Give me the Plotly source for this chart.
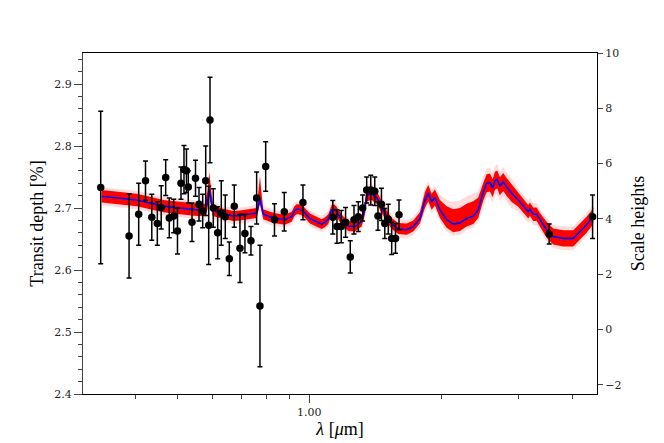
import plotly.graph_objects as go
import math

# ---------------- observed transit depths ----------------
obs_wavelength = [0.3340, 0.3877, 0.4078, 0.4227, 0.4369, 0.4498, 0.4591, 0.4700, 0.4790, 0.4902,
                  0.5001, 0.5094, 0.5175, 0.5243, 0.5293, 0.5398, 0.5498, 0.5600, 0.5710, 0.5801,
                  0.5893, 0.5934, 0.6037, 0.6178, 0.6296, 0.6430, 0.6567, 0.6741, 0.6946, 0.7130,
                  0.7359, 0.7583, 0.7716, 0.7952, 0.8329, 0.8768, 0.9674, 1.1317, 1.1567, 1.1832,
                  1.2104, 1.2406, 1.2651, 1.2940, 1.3242, 1.3524, 1.3817, 1.4110, 1.4350, 1.4617,
                  1.4876, 1.5152, 1.5424, 1.5736, 1.6029, 3.531, 4.436]
obs_depth = [2.733, 2.655, 2.690, 2.744, 2.685, 2.675, 2.701, 2.749, 2.684, 2.687,
             2.663, 2.740, 2.762, 2.760, 2.734, 2.677, 2.748, 2.706, 2.695, 2.744,
             2.672, 2.842, 2.700, 2.660, 2.692, 2.686, 2.618, 2.703, 2.635, 2.659,
             2.647, 2.716, 2.542, 2.767, 2.681, 2.694, 2.709, 2.685, 2.670, 2.670,
             2.677, 2.621, 2.681, 2.686, 2.700, 2.729, 2.729, 2.727, 2.687, 2.706,
             2.675, 2.682, 2.651, 2.651, 2.689, 2.658, 2.686]
obs_error = [0.123, 0.068, 0.050, 0.032, 0.037, 0.035, 0.035, 0.029, 0.032, 0.027,
             0.037, 0.026, 0.039, 0.035, 0.026, 0.031, 0.029, 0.027, 0.027, 0.056,
             0.063, 0.069, 0.031, 0.042, 0.052, 0.035, 0.027, 0.034, 0.055, 0.031,
             0.023, 0.042, 0.098, 0.040, 0.026, 0.031, 0.028, 0.027, 0.027, 0.026,
             0.024, 0.026, 0.023, 0.024, 0.021, 0.021, 0.024, 0.023, 0.023, 0.026,
             0.024, 0.024, 0.026, 0.024, 0.024, 0.016, 0.035]

# ---------------- retrieved model spectrum ----------------
model_wavelength = [0.3357, 0.3697, 0.4035, 0.4328, 0.4642, 0.5068, 0.5533, 0.5777, 0.5854, 0.5910,
                    0.5964, 0.6018, 0.6254, 0.6477, 0.6706, 0.6946, 0.7199, 0.7452, 0.7584, 0.7648,
                    0.7716, 0.7785, 0.7852, 0.8134, 0.8425, 0.8800, 0.9116, 0.9252, 0.9359, 0.9473,
                    0.9690, 1.0037, 1.0484, 1.0673, 1.0859, 1.1050, 1.1249, 1.1387, 1.1549, 1.1857,
                    1.2276, 1.2715, 1.3172, 1.3405, 1.3524, 1.3882, 1.4251, 1.4634, 1.5024, 1.5424,
                    1.5970, 1.6690, 1.7277, 1.7889, 1.8372, 1.8692, 1.9031, 1.9364, 1.9879, 2.0592,
                    2.1322, 2.2085, 2.2877, 2.3685, 2.4315, 2.4965, 2.5410, 2.5860, 2.6228, 2.6546,
                    2.6866, 2.7253, 2.7728, 2.8228, 2.8979, 3.0006, 3.1081, 3.1623, 3.1909, 3.2465,
                    3.3053, 3.3629, 3.4834, 3.6067, 3.8019, 4.0067, 4.1500, 4.2987, 4.4131, 4.4509]
model_median = [2.719, 2.716, 2.713, 2.708, 2.703, 2.700, 2.697, 2.697, 2.708, 2.730,
                2.713, 2.697, 2.692, 2.690, 2.687, 2.688, 2.689, 2.691, 2.692, 2.705,
                2.715, 2.702, 2.690, 2.686, 2.683, 2.681, 2.686, 2.695, 2.698, 2.698,
                2.695, 2.683, 2.676, 2.674, 2.677, 2.682, 2.697, 2.698, 2.694, 2.681,
                2.671, 2.670, 2.678, 2.700, 2.721, 2.723, 2.717, 2.702, 2.686, 2.674,
                2.666, 2.665, 2.670, 2.683, 2.713, 2.724, 2.710, 2.717, 2.697, 2.681,
                2.674, 2.676, 2.683, 2.687, 2.697, 2.726, 2.740, 2.741, 2.732, 2.744,
                2.746, 2.735, 2.742, 2.734, 2.724, 2.713, 2.700, 2.694, 2.698, 2.690,
                2.690, 2.681, 2.665, 2.654, 2.651, 2.651, 2.662, 2.673, 2.683, 2.689]
sigma1_up = [0.010, 0.010, 0.010, 0.010, 0.010, 0.010, 0.010, 0.010, 0.019, 0.027,
             0.019, 0.010, 0.008, 0.008, 0.008, 0.008, 0.008, 0.008, 0.008, 0.019,
             0.035, 0.019, 0.008, 0.008, 0.008, 0.008, 0.008, 0.008, 0.008, 0.008,
             0.008, 0.008, 0.008, 0.008, 0.008, 0.008, 0.008, 0.008, 0.008, 0.008,
             0.008, 0.008, 0.008, 0.010, 0.010, 0.010, 0.010, 0.010, 0.010, 0.010,
             0.010, 0.010, 0.010, 0.010, 0.013, 0.013, 0.013, 0.013, 0.016, 0.022,
             0.024, 0.024, 0.024, 0.024, 0.020, 0.0145, 0.0145, 0.0145, 0.0145, 0.0145,
             0.0145, 0.0145, 0.0145, 0.0145, 0.0145, 0.011, 0.011, 0.011, 0.011, 0.011,
             0.011, 0.011, 0.013, 0.013, 0.013, 0.013, 0.013, 0.013, 0.013, 0.013]
sigma1_dn = [0.010, 0.010, 0.010, 0.010, 0.010, 0.010, 0.010, 0.010, 0.010, 0.010,
             0.010, 0.010, 0.008, 0.008, 0.008, 0.008, 0.008, 0.008, 0.008, 0.008,
             0.008, 0.008, 0.008, 0.008, 0.008, 0.008, 0.008, 0.008, 0.008, 0.008,
             0.008, 0.008, 0.008, 0.008, 0.008, 0.008, 0.008, 0.008, 0.008, 0.008,
             0.008, 0.008, 0.008, 0.010, 0.010, 0.010, 0.010, 0.010, 0.008, 0.008,
             0.008, 0.008, 0.008, 0.008, 0.013, 0.013, 0.013, 0.013, 0.013, 0.013,
             0.013, 0.013, 0.013, 0.013, 0.013, 0.0145, 0.0145, 0.0145, 0.0145, 0.0145,
             0.0145, 0.0145, 0.0145, 0.0145, 0.0145, 0.011, 0.011, 0.011, 0.011, 0.011,
             0.011, 0.011, 0.013, 0.013, 0.013, 0.013, 0.013, 0.013, 0.013, 0.013]
sigma2_up = [0.015, 0.015, 0.015, 0.015, 0.015, 0.015, 0.015, 0.015, 0.029, 0.039,
             0.029, 0.015, 0.013, 0.013, 0.013, 0.013, 0.013, 0.013, 0.013, 0.029,
             0.045, 0.029, 0.013, 0.013, 0.013, 0.013, 0.013, 0.013, 0.013, 0.013,
             0.013, 0.013, 0.013, 0.013, 0.013, 0.013, 0.013, 0.013, 0.013, 0.013,
             0.013, 0.013, 0.013, 0.016, 0.016, 0.016, 0.016, 0.016, 0.016, 0.016,
             0.016, 0.016, 0.016, 0.016, 0.019, 0.019, 0.019, 0.019, 0.024, 0.032,
             0.036, 0.036, 0.036, 0.036, 0.030, 0.024, 0.024, 0.024, 0.024, 0.024,
             0.024, 0.024, 0.024, 0.024, 0.024, 0.018, 0.018, 0.018, 0.018, 0.018,
             0.018, 0.018, 0.019, 0.019, 0.019, 0.019, 0.019, 0.019, 0.019, 0.019]
sigma2_dn = [0.015, 0.015, 0.015, 0.015, 0.015, 0.015, 0.015, 0.015, 0.015, 0.015,
             0.015, 0.015, 0.013, 0.013, 0.013, 0.013, 0.013, 0.013, 0.013, 0.013,
             0.013, 0.013, 0.013, 0.013, 0.013, 0.013, 0.013, 0.013, 0.013, 0.013,
             0.013, 0.013, 0.013, 0.013, 0.013, 0.013, 0.013, 0.013, 0.013, 0.013,
             0.013, 0.013, 0.013, 0.016, 0.016, 0.016, 0.016, 0.016, 0.014, 0.014,
             0.014, 0.014, 0.014, 0.014, 0.019, 0.019, 0.019, 0.019, 0.019, 0.019,
             0.019, 0.019, 0.019, 0.019, 0.019, 0.024, 0.024, 0.024, 0.024, 0.024,
             0.024, 0.024, 0.024, 0.024, 0.024, 0.018, 0.018, 0.018, 0.018, 0.018,
             0.018, 0.018, 0.019, 0.019, 0.019, 0.019, 0.019, 0.019, 0.019, 0.019]

# ---------------- axis settings ----------------
depth_range = [2.4, 2.95]
depth_ticks = [2.4, 2.5, 2.6, 2.7, 2.8, 2.9]
scale_height_range = [-2.33, 10]
scale_height_ticks = [-2, 0, 2, 4, 6, 8, 10]
wavelength_range = [0.3043, 4.54]
x_major_ticks = [1.0]
x_major_labels = ["1.00"]
x_minor_ticks = [0.4, 0.5, 0.6, 0.7, 0.8, 0.9, 2.0, 3.0, 4.0]

hi2 = [m + s for m, s in zip(model_median, sigma2_up)]
lo2 = [m - s for m, s in zip(model_median, sigma2_dn)]
hi1 = [m + s for m, s in zip(model_median, sigma1_up)]
lo1 = [m - s for m, s in zip(model_median, sigma1_dn)]

fig = go.Figure()
fig.add_trace(go.Scatter(x=model_wavelength, y=lo2, mode="lines", line=dict(width=0),
                         hoverinfo="skip", showlegend=False))
fig.add_trace(go.Scatter(x=model_wavelength, y=hi2, mode="lines", line=dict(width=0),
                         fill="tonexty", fillcolor="#ffdcdc", hoverinfo="skip", showlegend=False))
fig.add_trace(go.Scatter(x=model_wavelength, y=lo1, mode="lines", line=dict(width=0),
                         hoverinfo="skip", showlegend=False))
fig.add_trace(go.Scatter(x=model_wavelength, y=hi1, mode="lines", line=dict(width=0),
                         fill="tonexty", fillcolor="#ff0000", hoverinfo="skip", showlegend=False))
fig.add_trace(go.Scatter(x=model_wavelength, y=model_median, mode="lines",
                         line=dict(color="#0000ff", width=1.6), showlegend=False))
fig.add_trace(go.Scatter(x=obs_wavelength, y=obs_depth, mode="markers",
                         marker=dict(color="black", size=7.5),
                         error_y=dict(type="data", array=obs_error, color="black",
                                      thickness=1.5, width=2.5),
                         showlegend=False))
# invisible trace so the right-hand axis is drawn
fig.add_trace(go.Scatter(x=[1.0], y=[4], yaxis="y2", mode="markers",
                         marker=dict(opacity=0), hoverinfo="skip", showlegend=False))

tick_font = dict(family="DejaVu Serif", size=11, color="#222")
title_font = dict(family="Liberation Serif", size=18, color="black")

fig.update_layout(
    width=664, height=443,
    margin=dict(l=75, r=75, t=45, b=57, autoexpand=False),
    paper_bgcolor="white", plot_bgcolor="white",
    xaxis=dict(type="log",
               range=[math.log10(wavelength_range[0]), math.log10(wavelength_range[1])],
               tickmode="array", tickvals=x_major_ticks, ticktext=x_major_labels,
               ticks="outside", ticklen=8, tickwidth=1, tickcolor="#444",
               minor=dict(tickmode="array", tickvals=x_minor_ticks, ticks="outside",
                          ticklen=4, tickcolor="#444", showgrid=False),
               showline=True, linecolor="black", linewidth=1, mirror=True,
               showgrid=False, zeroline=False, tickfont=tick_font,
               title=dict(text="<i>λ</i> [<i>μ</i>m]", font=title_font, standoff=4)),
    yaxis=dict(range=depth_range, tickmode="array", tickvals=depth_ticks,
               tickformat=".1f", ticks="outside", ticklen=8, tickcolor="#444",
               minor=dict(dtick=0.02, ticks="outside", ticklen=4, tickcolor="#444",
                          showgrid=False),
               showline=True, linecolor="#444", linewidth=1,
               showgrid=False, zeroline=False, tickfont=tick_font,
               title=dict(text="Transit depth [%]", font=title_font, standoff=5)),
    yaxis2=dict(range=scale_height_range, overlaying="y", side="right",
                tickmode="array", tickvals=scale_height_ticks,
                ticks="outside", ticklen=5, tickcolor="#444",
                showline=True, linecolor="black", linewidth=1,
                showgrid=False, zeroline=False, tickfont=tick_font,
                title=dict(text="Scale heights", font=title_font, standoff=10)),
)

fig.write_html("out.html")
